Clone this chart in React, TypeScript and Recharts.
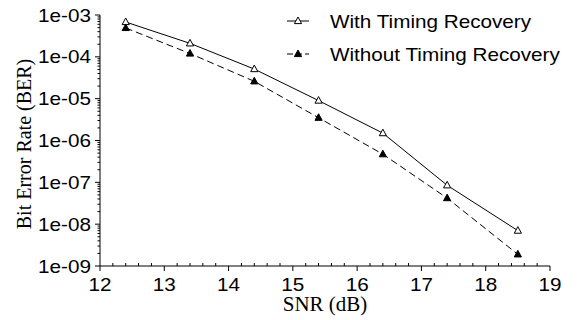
import React from 'react';
import { LineChart, Line, XAxis, YAxis } from 'recharts';

const snr = [12.4, 13.4, 14.4, 15.4, 16.4, 17.4, 18.5];
const berWith = [6.8e-4, 2.1e-4, 5.1e-5, 9.0e-6, 1.5e-6, 8.5e-8, 7.0e-9];
const berWithout = [4.9e-4, 1.2e-4, 2.6e-5, 3.5e-6, 4.7e-7, 4.2e-8, 1.9e-9];
const seriesNames = ['With Timing Recovery', 'Without Timing Recovery'];

const xMajorTicks = [12, 13, 14, 15, 16, 17, 18, 19];
const xTickLabels = ['12', '13', '14', '15', '16', '17', '18', '19'];
const yMajorTicks = [1e-9, 1e-8, 1e-7, 1e-6, 1e-5, 1e-4, 1e-3];
const yTickLabels = ['1e-09', '1e-08', '1e-07', '1e-06', '1e-05', '1e-04', '1e-03'];
const xLabel = 'SNR (dB)';
const yLabel = 'Bit Error Rate (BER)';

const data = snr.map((x, i) => ({ snr: x, with: berWith[i], without: berWithout[i] }));

// minor tick positions (axis decoration)
const xMinorTicks: number[] = [];
for (let i = 0; i < xMajorTicks.length - 1; i++) {
  for (let k = 1; k <= 4; k++) xMinorTicks.push(Math.round((xMajorTicks[i] + k * 0.2) * 10) / 10);
}
const xTicks = [...xMajorTicks, ...xMinorTicks].sort((a, b) => a - b);
const yMinorTicks: number[] = [];
for (let i = 0; i < yMajorTicks.length - 1; i++) {
  for (let k = 2; k <= 9; k++) yMinorTicks.push(k * yMajorTicks[i]);
}
const yTicks = [...yMajorTicks, ...yMinorTicks].sort((a, b) => a - b);

const SANS = '"Liberation Sans", Arial, sans-serif';
const SERIF = '"Liberation Serif", "Times New Roman", serif';
const SX = 1.15;

const XTick = (props: any) => {
  const { x, y, payload } = props;
  const v = payload.value;
  const i = xMajorTicks.findIndex((m) => Math.abs(m - v) < 1e-6);
  if (i < 0) return <line x1={x} x2={x} y1={y} y2={y - 3} stroke="#000" strokeWidth={1} />;
  return (
    <g>
      <line x1={x} x2={x} y1={y} y2={y + 5} stroke="#000" strokeWidth={1} />
      <text
        transform={`translate(${x},${y + 25}) scale(${SX},1)`}
        textAnchor="middle"
        fontFamily={SANS}
        fontSize={18}
        fill="#000"
      >
        {xTickLabels[i]}
      </text>
    </g>
  );
};

const YTick = (props: any) => {
  const { x, y, payload } = props;
  const v = payload.value;
  const i = yMajorTicks.findIndex((m) => Math.abs(v / m - 1) < 1e-6);
  if (i < 0) return <line x1={x} x2={x - 2.5} y1={y} y2={y} stroke="#000" strokeWidth={1} />;
  return (
    <g>
      <line x1={x} x2={x - 5} y1={y} y2={y} stroke="#000" strokeWidth={1} />
      <text
        transform={`translate(${x - 9},${y + 6.5}) scale(${SX},1)`}
        textAnchor="end"
        fontFamily={SANS}
        fontSize={18}
        fill="#000"
      >
        {yTickLabels[i]}
      </text>
    </g>
  );
};

const triPath = (cx: number, cy: number) =>
  `M${cx},${cy - 4} L${cx + 3.6},${cy + 2.6} L${cx - 3.6},${cy + 2.6} Z`;

const OpenDot = (p: any) => (
  <path key={`o${p.index}`} d={triPath(p.cx, p.cy)} fill="#fff" stroke="#000" strokeWidth={1} />
);
const FilledDot = (p: any) => (
  <path key={`f${p.index}`} d={triPath(p.cx, p.cy)} fill="#000" stroke="#000" strokeWidth={1} />
);

export default function App() {
  const legendRows = [
    { name: seriesNames[0], cy: 21, filled: false, dash: undefined as string | undefined },
    { name: seriesNames[1], cy: 54, filled: true, dash: '6 3' },
  ];
  return (
    <div style={{ position: 'absolute', left: 0, top: 0, width: 578, height: 320, background: '#fff' }}>
      <LineChart width={578} height={320} data={data} margin={{ top: 15, right: 28, bottom: 0, left: 0 }}>
        <XAxis
          dataKey="snr"
          type="number"
          domain={[12, 19]}
          ticks={xTicks}
          interval={0}
          tickLine={false}
          tickSize={0}
          tickMargin={0}
          tick={<XTick />}
          axisLine={{ stroke: '#000', strokeWidth: 1 }}
          height={54}
          allowDataOverflow
        />
        <YAxis
          type="number"
          scale="log"
          domain={[1e-9, 1e-3]}
          ticks={yTicks}
          interval={0}
          tickLine={false}
          tickSize={0}
          tickMargin={0}
          tick={<YTick />}
          axisLine={{ stroke: '#000', strokeWidth: 1 }}
          width={100}
          allowDataOverflow
        />
        <Line
          dataKey="with"
          stroke="#000"
          strokeWidth={1}
          dot={OpenDot}
          activeDot={false}
          isAnimationActive={false}
        />
        <Line
          dataKey="without"
          stroke="#000"
          strokeWidth={1}
          strokeDasharray="7 4"
          dot={FilledDot}
          activeDot={false}
          isAnimationActive={false}
        />
      </LineChart>
      <svg width={578} height={320} style={{ position: 'absolute', left: 0, top: 0, pointerEvents: 'none' }}>
        <text
          transform="translate(31,144) rotate(-90)"
          textAnchor="middle"
          fontFamily={SERIF}
          fontSize={20}
          fill="#000"
        >
          {yLabel}
        </text>
        <text transform="translate(325,311) scale(1.05,1)" textAnchor="middle" fontFamily={SERIF} fontSize={20} fill="#000">
          {xLabel}
        </text>
        {legendRows.map((r) => (
          <g key={r.name}>
            <line x1={287} x2={309} y1={r.cy} y2={r.cy} stroke="#000" strokeWidth={1} strokeDasharray={r.dash} />
            <path d={triPath(298, r.cy)} fill={r.filled ? '#000' : '#fff'} stroke="#000" strokeWidth={1} />
            <text
              transform={`translate(330,${r.cy + 6.5}) scale(${SX},1)`}
              fontFamily={SANS}
              fontSize={18}
              fill="#000"
            >
              {r.name}
            </text>
          </g>
        ))}
      </svg>
    </div>
  );
}
